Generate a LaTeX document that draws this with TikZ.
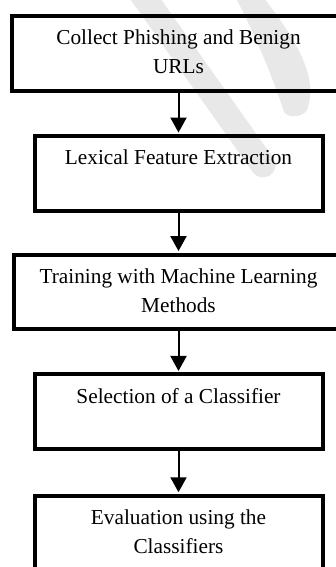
\documentclass[tikz,border=0pt]{standalone}
\usepackage{fontspec}
\setmainfont{Liberation Serif}
\usetikzlibrary{arrows.meta}
\begin{document}
\begin{tikzpicture}[x=1pt,y=-1pt,
  box/.style={draw, line width=4pt, minimum width=288pt, minimum height=74.5pt,
    inner sep=0pt, align=center, font=\fontsize{21.3}{29}\selectfont},
  widebox/.style={box, minimum width=333pt},
  arr/.style={line width=2pt, -{Triangle[length=15pt,width=16pt]}, shorten >=1.5pt},
  wm/.style={black!9}]
\useasboundingbox (0,0) rectangle (336,567);
\clip (0,0) rectangle (336,567);
% watermark
\draw[wm, line width=25pt, line cap=round] (132,-20) -- (263,165);
\fill[wm] (236,-2) -- (264,-2) .. controls (292,35) and (320,75) .. (307,110)
  .. controls (302,118) and (288,118) .. (284,112) .. controls (272,75) and (255,35) .. (236,-2) -- cycle;
% boxes
\node[widebox] (b1) at (178.5,53.3) {\strut Collect Phishing and Benign\\\strut URLs};
\node[box] (b2) at (178.5,173.3) {\strut Lexical Feature Extraction\\\strut};
\node[widebox, minimum width=330pt] (b3) at (178.5,291.8) {\strut Training with Machine Learning\\\strut Methods};
\node[box] (b4) at (178.5,411.7) {\strut Selection of a Classifier\\\strut};
\node[box] (b5) at (178.5,533) {\strut Evaluation using the\\\strut Classifiers};
% arrows
\draw[arr] (b1) -- (b2);
\draw[arr] (b2) -- (b3);
\draw[arr] (b3) -- (b4);
\draw[arr] (b4) -- (b5);
\end{tikzpicture}
\end{document}
